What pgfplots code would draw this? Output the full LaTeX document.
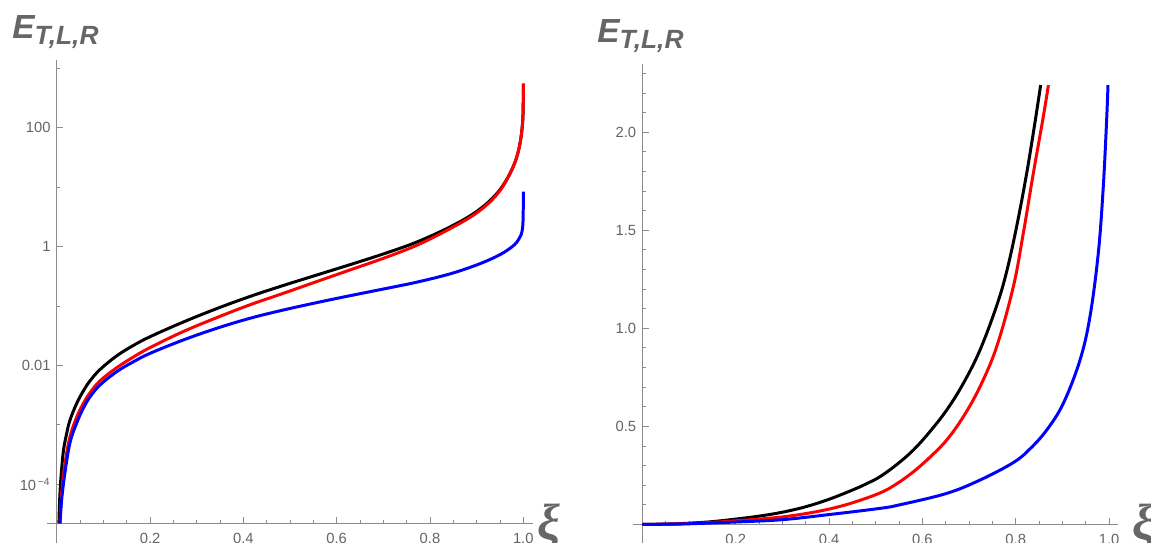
\documentclass[border=0pt]{standalone}
\usepackage{fontspec}
\setmainfont{Liberation Sans}
\newfontfamily\xifont{Liberation Serif}
\usepackage{pgfplots}
\usepackage{pgfplotstable}
\pgfplotsset{compat=1.18}

\definecolor{axgray}{RGB}{140,140,140}
\definecolor{txtgray}{RGB}{100,100,100}
\definecolor{lblgray}{RGB}{102,102,102}

% left panel: log10 of E
\pgfplotstableread{
xi lgE
0.0045 -4.657
0.0065 -4.2
0.0093 -3.85
0.014 -3.45
0.0205 -3.17
0.0283 -2.92
0.0426 -2.64
0.0569 -2.43
0.0712 -2.26
0.0926 -2.07
0.1283 -1.84
0.164 -1.665
0.2 -1.517
0.2712 -1.27
0.3427 -1.045
0.4141 -0.84
0.4856 -0.655
0.557 -0.48
0.6285 -0.305
0.7 -0.125
0.7714 0.075
0.8429 0.33
0.9 0.59
0.943 0.89
0.9715 1.23
0.9893 1.6
0.9987 2.1
1.0 2.735
}\LBlack
\pgfplotstableread{
xi lgE
0.0069 -4.657
0.0105 -4.15
0.0176 -3.65
0.0283 -3.2
0.0426 -2.87
0.0569 -2.64
0.0712 -2.46
0.0926 -2.26
0.1283 -2.04
0.164 -1.86
0.2 -1.70
0.2712 -1.43
0.3427 -1.197
0.4141 -0.98
0.4856 -0.787
0.557 -0.59
0.6285 -0.394
0.7 -0.198
0.7714 0.02
0.8429 0.3
0.9 0.565
0.943 0.87
0.9715 1.225
0.9893 1.6
0.9987 2.1
1.0 2.747
}\LRed
\pgfplotstableread{
xi lgE
0.0069 -4.657
0.0105 -4.25
0.0176 -3.8
0.0283 -3.3
0.0426 -2.97
0.0569 -2.72
0.0712 -2.53
0.0926 -2.33
0.1283 -2.106
0.164 -1.94
0.2 -1.797
0.2712 -1.572
0.3427 -1.376
0.4141 -1.207
0.4856 -1.068
0.557 -0.944
0.6285 -0.827
0.7 -0.715
0.7714 -0.60
0.8429 -0.46
0.9 -0.31
0.943 -0.165
0.9715 -0.03
0.9893 0.11
0.9987 0.33
1.0 0.923
}\LBlue

% right panel: E on a linear scale
\pgfplotstableread{
xi E
0 0
0.05 0.0015
0.1 0.006
0.15 0.014
0.2 0.027
0.25 0.042
0.3 0.062
0.35 0.09
0.4 0.128
0.45 0.175
0.48 0.207
0.509 0.243
0.545 0.305
0.5805 0.379
0.615 0.47
0.652 0.583
0.6877 0.719
0.7234 0.889
0.7591 1.115
0.7806 1.29
0.802 1.52
0.8234 1.79
0.8412 2.05
0.8534 2.241
}\RBlack
\pgfplotstableread{
xi E
0 0
0.05 0.001
0.1 0.004
0.15 0.01
0.2 0.018
0.25 0.027
0.3 0.038
0.35 0.055
0.4 0.078
0.45 0.11
0.509 0.16
0.545 0.207
0.5805 0.268
0.615 0.34
0.652 0.430
0.6877 0.549
0.7234 0.702
0.7591 0.906
0.7948 1.212
0.8162 1.485
0.8377 1.791
0.8591 2.08
0.8700 2.241
}\RRed
\pgfplotstableread{
xi E
0 0
0.05 0.0008
0.1 0.003
0.2 0.012
0.3 0.024
0.4 0.05
0.509 0.0816
0.552 0.10
0.652 0.158
0.7234 0.226
0.7948 0.315
0.8305 0.385
0.8663 0.481
0.9019 0.617
0.9377 0.838
0.959 1.059
0.9769 1.383
0.9876 1.722
0.9948 2.063
0.9977 2.241
}\RBlue

\pgfplotsset{mma/.style={
  scale only axis, anchor=south west,
  axis lines=middle, axis line style={axgray, line width=0.6pt, -},
  tick style={axgray, line width=0.5pt}, tick align=inside,
  major tick length=3.5pt, minor tick length=2pt,
  ticklabel style={font=\fontsize{8.4}{9}\selectfont, text=txtgray},
  xmin=-0.021, xmax=1.02,
  xtick={0.2,0.4,0.6,0.8,1.0},
  minor xtick={0.05,0.1,0.15,0.25,0.3,0.35,0.45,0.5,0.55,0.65,0.7,0.75,0.85,0.9,0.95},
  xticklabel style={yshift=-2pt, /pgf/number format/.cd, fixed, fixed zerofill, precision=1, assume math mode=true},
},
crv/.style={line width=1.7pt, smooth, tension=0.6}}

\begin{document}
\begin{tikzpicture}
\begin{axis}[mma, at={(0.94cm,0cm)}, width=9.712cm, height=9.66cm,
  ymin=-0.331, ymax=7.796,
  ytick={0.657,2.657,4.657,6.657},
  yticklabels={10\textsuperscript{\,−4},0.01,1,100},
  minor ytick={1.657,3.657,5.657,7.657}]
\addplot[crv, black] table[x=xi, y expr=\thisrow{lgE}+4.657] {\LBlack};
\addplot[crv, red] table[x=xi, y expr=\thisrow{lgE}+4.657] {\LRed};
\addplot[crv, blue] table[x=xi, y expr=\thisrow{lgE}+4.657] {\LBlue};
\end{axis}
\begin{axis}[mma, at={(12.652cm,0cm)}, width=9.716cm, height=9.586cm,
  ymin=-0.095, ymax=2.35,
  ytick={0.5,1.0,1.5,2.0},
  minor ytick={0.1,0.2,0.3,0.4,0.6,0.7,0.8,0.9,1.1,1.2,1.3,1.4,1.6,1.7,1.8,1.9,2.1,2.2,2.3},
  yticklabel style={/pgf/number format/.cd, fixed, fixed zerofill, precision=1, assume math mode=true}]
\addplot[crv, black] table[x=xi, y=E] {\RBlack};
\addplot[crv, red] table[x=xi, y=E] {\RRed};
\addplot[crv, blue] table[x=xi, y=E] {\RBlue};
\end{axis}
% axis labels
\node[anchor=base west, inner sep=0pt, text=lblgray] at (0.24cm,10.08cm)
  {\fontsize{19}{19}\selectfont\bfseries\itshape E\raisebox{-3.4pt}{\fontsize{15}{15}\selectfont T,L,R}};
\node[anchor=base west, inner sep=0pt, text=lblgray] at (11.94cm,10.0cm)
  {\fontsize{19}{19}\selectfont\bfseries\itshape E\raisebox{-3.4pt}{\fontsize{15}{15}\selectfont T,L,R}};
\node[anchor=base west, inner sep=0pt, text=lblgray] at (10.74cm,0.06cm)
  {\xifont\fontsize{29}{29}\selectfont\bfseries\itshape ξ};
\node[anchor=base west, inner sep=0pt, text=lblgray] at (22.64cm,0.06cm)
  {\xifont\fontsize{29}{29}\selectfont\bfseries\itshape ξ};
\pgfresetboundingbox
\path (0,0) rectangle (23.02cm,10.86cm);
\end{tikzpicture}
\end{document}
